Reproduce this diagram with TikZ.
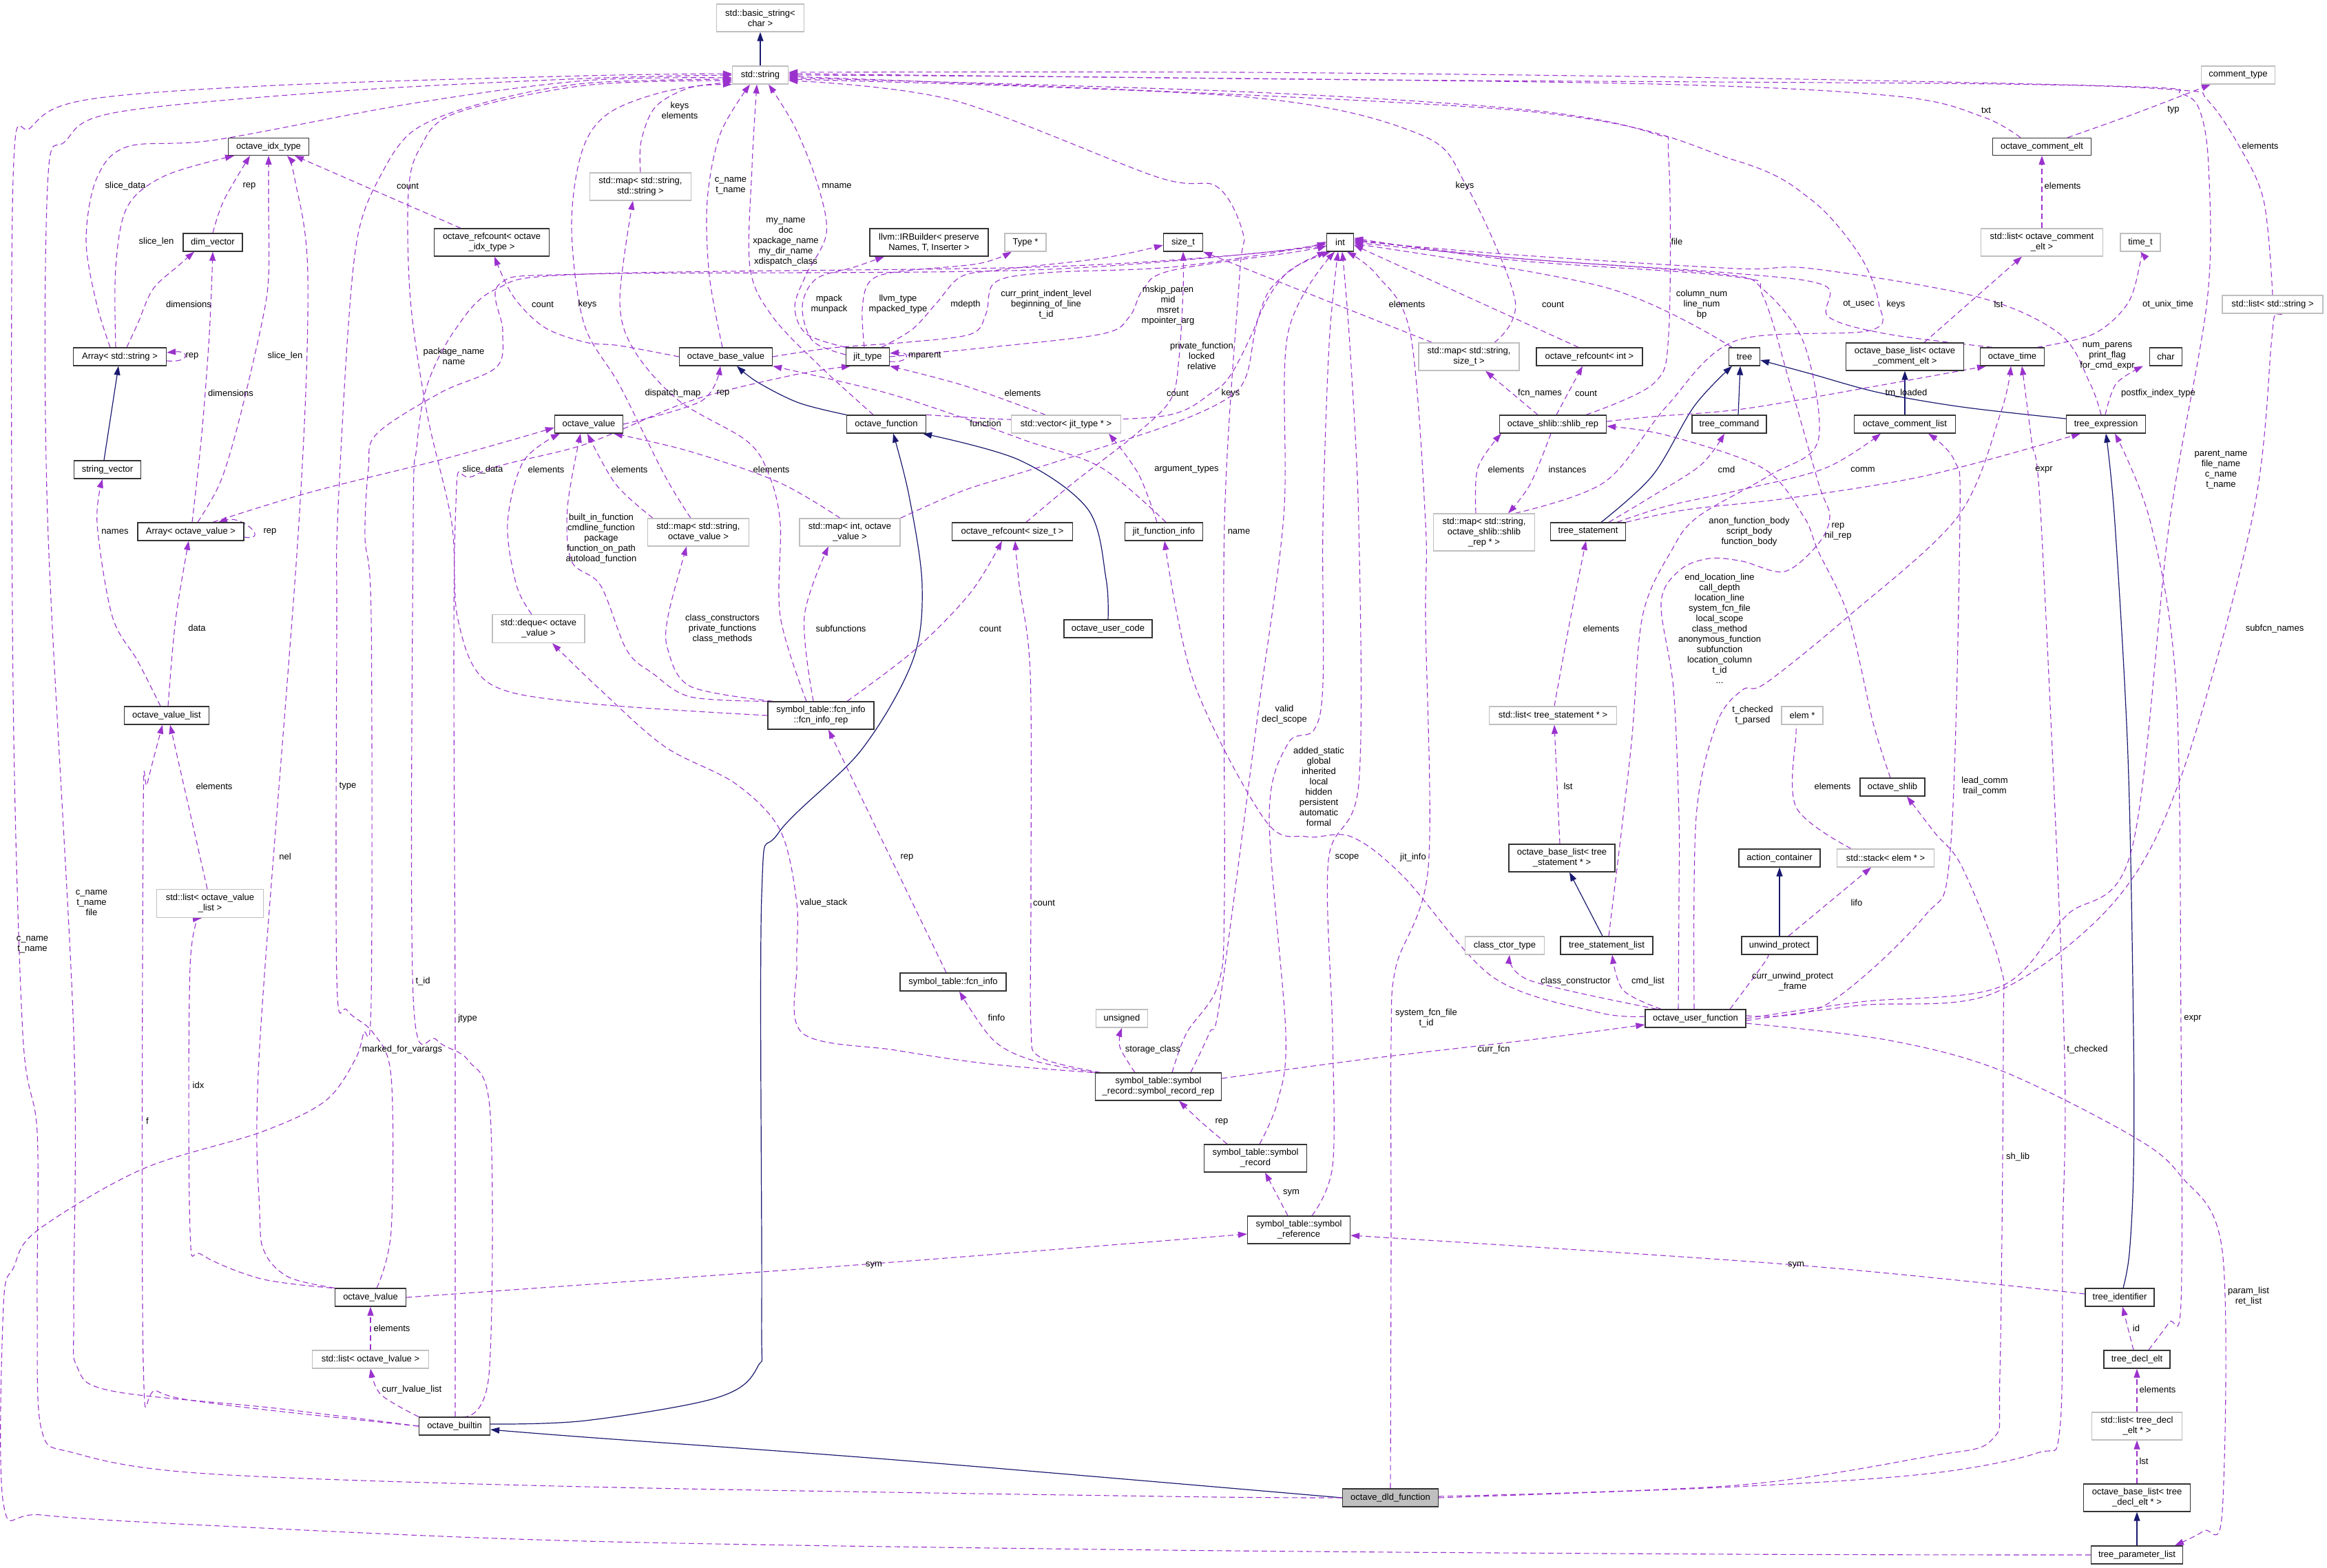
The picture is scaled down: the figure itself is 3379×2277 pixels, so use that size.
\documentclass[tikz,border=0pt]{standalone}
\usepackage{fontspec}
\setmainfont{Liberation Sans}
\usetikzlibrary{arrows.meta}
\pgfdeclarelayer{bg}
\pgfsetlayers{bg,main}
\definecolor{depc}{HTML}{9A32CD}
\definecolor{inhc}{HTML}{191970}
\definecolor{gbd}{HTML}{BFBFBF}
\begin{document}
\begin{tikzpicture}[x=1pt,y=-1pt,
 every node/.style={font=\fontsize{13}{15}\selectfont},
 cls/.style={draw=black!80,line width=1.3pt,fill=white,inner sep=0pt,align=center,minimum height=26pt},
 gcls/.style={cls,draw=gbd},
 lbl/.style={inner sep=0pt,align=center},
 dep/.style={draw=depc,line width=1.1pt,dash pattern=on 8pt off 5pt,-{Triangle[length=13pt,width=9pt]}},
 inh/.style={draw=inhc,line width=1.2pt,-{Triangle[length=13pt,width=9pt]}},
 sm/.style={smooth,tension=.55}]
\useasboundingbox (0,0) rectangle (3379,2277);
% ---------------- nodes
\node[gcls,minimum width=127pt,minimum height=40pt] (bs) at (1104,26) {std::basic\_string<\\char >};
\node[gcls,minimum width=81pt] (str) at (1104,109) {std::string};
\node[gcls,minimum width=147pt,minimum height=40pt] (mss) at (930,271) {std::map< std::string,\\std::string >};
\node[cls,minimum width=117pt,minimum height=25pt] (idx) at (390,213) {octave\_idx\_type};
\node[cls,minimum width=86pt] (dv) at (309,352) {dim\_vector};
\node[cls,minimum width=167pt,minimum height=40pt] (rci) at (714,352) {octave\_refcount< octave\\\_idx\_type >};
\node[cls,minimum width=172pt,minimum height=40pt] (irb) at (1349,352) {llvm::IRBuilder< preserve\\Names, T, Inserter >};
\node[gcls,minimum width=60pt] (typ) at (1489,352) {Type *};
\node[cls,minimum width=57pt] (szt) at (1718,352) {size\_t};
\node[cls,minimum width=39pt] (int) at (1946,352) {int};
\node[gcls,minimum width=107pt] (ct) at (3250,109) {comment\_type};
\node[cls,minimum width=143pt,minimum height=25pt] (ce) at (2965,213) {octave\_comment\_elt};
\node[gcls,minimum width=177pt,minimum height=40pt] (lce) at (2965,352) {std::list< octave\_comment\\\_elt >};
\node[gcls,minimum width=58pt] (tt) at (3108,352) {time\_t};
\node[gcls,minimum width=146pt] (lss) at (3300,442) {std::list< std::string >};
\node[cls,minimum width=135pt] (as) at (174,518) {Array< std::string >};
\node[cls,minimum width=135pt] (bv) at (1054,518) {octave\_base\_value};
\node[cls,minimum width=63pt] (jt) at (1260,518) {jit\_type};
\node[gcls,minimum width=146pt,minimum height=40pt] (mssz) at (2133,518) {std::map< std::string,\\size\_t >};
\node[cls,minimum width=154pt] (rcint) at (2308,518) {octave\_refcount< int >};
\node[cls,minimum width=45pt] (tree) at (2533,518) {tree};
\node[cls,minimum width=171pt,minimum height=40pt] (blc) at (2766,518) {octave\_base\_list< octave\\\_comment\_elt >};
\node[cls,minimum width=93pt] (otime) at (2922,518) {octave\_time};
\node[cls,minimum width=47pt] (chr) at (3145,518) {char};
\node[cls,minimum width=97pt] (sv) at (156,682) {string\_vector};
\node[cls,minimum width=99pt] (ov) at (855,616) {octave\_value};
\node[cls,minimum width=115pt] (of) at (1287,616) {octave\_function};
\node[gcls,minimum width=159pt] (vjt) at (1548,616) {std::vector< jit\_type * >};
\node[cls,minimum width=155pt] (shr) at (2255,616) {octave\_shlib::shlib\_rep};
\node[cls,minimum width=108pt] (tc) at (2511,616) {tree\_command};
\node[cls,minimum width=147pt] (cl) at (2766,616) {octave\_comment\_list};
\node[cls,minimum width=115pt] (te) at (3058,616) {tree\_expression};
\node[cls,minimum width=154pt] (av) at (277,772) {Array< octave\_value >};
\node[gcls,minimum width=147pt,minimum height=40pt] (msov) at (1014,773) {std::map< std::string,\\octave\_value >};
\node[gcls,minimum width=146pt,minimum height=40pt] (miov) at (1234,773) {std::map< int, octave\\\_value >};
\node[cls,minimum width=175pt] (rcs) at (1470,772) {octave\_refcount< size\_t >};
\node[cls,minimum width=113pt] (jfi) at (1690,772) {jit\_function\_info};
\node[gcls,minimum width=147pt,minimum height=54pt] (msh) at (2155,773) {std::map< std::string,\\octave\_shlib::shlib\\\_rep * >};
\node[cls,minimum width=109pt] (ts) at (2306,772) {tree\_statement};
\node[gcls,minimum width=134pt,minimum height=41pt] (dq) at (782,913) {std::deque< octave\\\_value >};
\node[cls,minimum width=128pt] (uc) at (1609,913) {octave\_user\_code};
\node[cls,minimum width=123pt] (vl) at (242,1039) {octave\_value\_list};
\node[cls,minimum width=154pt,minimum height=40pt] (fir) at (1192,1039) {symbol\_table::fcn\_info\\::fcn\_info\_rep};
\node[gcls,minimum width=185pt] (lts) at (2255,1039) {std::list< tree\_statement * >};
\node[gcls,minimum width=60pt] (elem) at (2617,1039) {elem *};
\node[cls,minimum width=94pt] (osh) at (2748,1143) {octave\_shlib};
\node[cls,minimum width=154pt,minimum height=40pt] (bls) at (2268,1246) {octave\_base\_list< tree\\\_statement * >};
\node[cls,minimum width=118pt] (ac) at (2584,1246) {action\_container};
\node[gcls,minimum width=141pt] (se) at (2738,1246) {std::stack< elem * >};
\node[gcls,minimum width=155pt,minimum height=41pt] (lvl) at (305,1312) {std::list< octave\_value\\\_list >};
\node[gcls,minimum width=115pt] (cct) at (2185,1373) {class\_ctor\_type};
\node[cls,minimum width=134pt] (tsl) at (2333,1373) {tree\_statement\_list};
\node[cls,minimum width=110pt] (up) at (2584,1373) {unwind\_protect};
\node[cls,minimum width=154pt] (fi) at (1384,1426) {symbol\_table::fcn\_info};
\node[gcls,minimum width=75pt] (uns) at (1629,1479) {unsigned};
\node[cls,minimum width=146pt] (uf) at (2462,1479) {octave\_user\_function};
\node[cls,minimum width=183pt,minimum height=40pt] (srr) at (1682,1578) {symbol\_table::symbol\\\_record::symbol\_record\_rep};
\node[cls,minimum width=149pt,minimum height=40pt] (sr) at (1823,1682) {symbol\_table::symbol\\\_record};
\node[cls,minimum width=149pt,minimum height=40pt] (sref) at (1886,1786) {symbol\_table::symbol\\\_reference};
\node[cls,minimum width=103pt] (lv) at (538,1884) {octave\_lvalue};
\node[cls,minimum width=100pt] (tid) at (3078,1884) {tree\_identifier};
\node[gcls,minimum width=169pt] (llv) at (538,1974) {std::list< octave\_lvalue >};
\node[cls,minimum width=96pt] (tde) at (3103,1974) {tree\_decl\_elt};
\node[cls,minimum width=103pt] (ob) at (660,2071) {octave\_builtin};
\node[gcls,minimum width=131pt,minimum height=40pt] (ltd) at (3103,2071) {std::list< tree\_decl\\\_elt * >};
\node[cls,minimum width=139pt,fill=gbd] (dld) at (2019,2175) {octave\_dld\_function};
\node[cls,minimum width=155pt,minimum height=40pt] (bld) at (3103,2175) {octave\_base\_list< tree\\\_decl\_elt * >};
\node[cls,minimum width=133pt] (tpl) at (3103,2258) {tree\_parameter\_list};
% ---------------- labels
\node[lbl] (l1) at (987,160) {keys\\elements};
\node[lbl] (l2) at (182,270) {slice\_data};
\node[lbl] (l3) at (362,270) {rep};
\node[lbl] (l4) at (592,270) {count};
\node[lbl] (l5) at (1061,270) {c\_name\\t\_name};
\node[lbl] (l6) at (1215,270) {mname};
\node[lbl] (l7) at (2127,270) {keys};
\node[lbl] (l8) at (2884,160) {txt};
\node[lbl] (l9) at (3156,160) {typ};
\node[lbl] (l10) at (3282,212) {elements};
\node[lbl] (l11) at (2995,270) {elements};
\node[lbl] (l12) at (227,351) {slice\_len};
\node[lbl] (l13) at (1141,351) {my\_name\\doc\\xpackage\_name\\my\_dir\_name\\xdispatch\_class};
\node[lbl] (l14) at (2435,351) {file};
\node[lbl] (l15) at (274,442) {dimensions};
\node[lbl] (l16) at (788,442) {count};
\node[lbl] (l17) at (853,442) {keys};
\node[lbl] (l18) at (1204,442) {mpack\\munpack};
\node[lbl] (l19) at (1304,442) {llvm\_type\\mpacked\_type};
\node[lbl] (l20) at (1402,442) {mdepth};
\node[lbl] (l21) at (1519,442) {curr\_print\_indent\_level\\beginning\_of\_line\\t\_id};
\node[lbl] (l22) at (1696,444) {mskip\_paren\\mid\\msret\\mpointer\_arg};
\node[lbl] (l23) at (2043,442) {elements};
\node[lbl] (l24) at (2255,442) {count};
\node[lbl] (l25) at (2471,442) {column\_num\\line\_num\\bp};
\node[lbl] (l26) at (2699,442) {ot\_usec};
\node[lbl] (l27) at (2753,442) {keys};
\node[lbl] (l28) at (2902,442) {lst};
\node[lbl] (l29) at (3148,442) {ot\_unix\_time};
\node[lbl] (l30) at (279,517) {rep};
\node[lbl] (l31) at (414,517) {slice\_len};
\node[lbl] (l32) at (659,517) {package\_name\\name};
\node[lbl] (l33) at (1343,517) {mparent};
\node[lbl] (l34) at (1745,517) {private\_function\\locked\\relative};
\node[lbl] (l35) at (3060,517) {num\_parens\\print\_flag\\for\_cmd\_expr};
\node[lbl] (l36) at (335,571) {dimensions};
\node[lbl] (l37) at (977,571) {dispatch\_map};
\node[lbl] (l38) at (1050,571) {rep};
\node[lbl] (l39) at (1485,571) {elements};
\node[lbl] (l40) at (1710,571) {count};
\node[lbl] (l41) at (1787,571) {keys};
\node[lbl] (l42) at (2236,571) {fcn\_names};
\node[lbl] (l43) at (2303,571) {count};
\node[lbl] (l44) at (2768,571) {tm\_loaded};
\node[lbl] (l45) at (3134,571) {postfix\_index\_type};
\node[lbl] (l46) at (1431,615) {function};
\node[lbl] (l47) at (701,682) {slice\_data};
\node[lbl] (l48) at (793,682) {elements};
\node[lbl] (l49) at (914,682) {elements};
\node[lbl] (l50) at (1120,682) {elements};
\node[lbl] (l51) at (1723,682) {argument\_types};
\node[lbl] (l52) at (2187,682) {elements};
\node[lbl] (l53) at (2276,682) {instances};
\node[lbl] (l54) at (2507,682) {cmd};
\node[lbl] (l55) at (2705,682) {comm};
\node[lbl] (l56) at (2968,682) {expr};
\node[lbl] (l57) at (3225,682) {parent\_name\\file\_name\\c\_name\\t\_name};
\node[lbl] (l58) at (167,772) {names};
\node[lbl] (l59) at (392,772) {rep};
\node[lbl] (l60) at (873,782) {built\_in\_function\\cmdline\_function\\package\\function\_on\_path\\autoload\_function};
\node[lbl] (l61) at (1799,772) {name};
\node[lbl] (l62) at (2669,772) {rep\\nil\_rep};
\node[lbl] (l63) at (2540,772) {anon\_function\_body\\script\_body\\function\_body};
\node[lbl] (l64) at (286,912) {data};
\node[lbl] (l65) at (1049,913) {class\_constructors\\private\_functions\\class\_methods};
\node[lbl] (l66) at (1221,913) {subfunctions};
\node[lbl] (l67) at (1438,913) {count};
\node[lbl] (l68) at (2325,913) {elements};
\node[lbl] (l69) at (2497,913) {end\_location\_line\\call\_depth\\location\_line\\system\_fcn\_file\\local\_scope\\class\_method\\anonymous\_function\\subfunction\\location\_column\\t\_id\\...};
\node[lbl] (l70) at (3303,913) {subfcn\_names};
\node[lbl] (l71) at (1865,1038) {valid\\decl\_scope};
\node[lbl] (l72) at (2545,1039) {t\_checked\\t\_parsed};
\node[lbl] (l73) at (311,1142) {elements};
\node[lbl] (l74) at (505,1142) {type};
\node[lbl] (l75) at (1915,1142) {added\_static\\global\\inherited\\local\\hidden\\persistent\\automatic\\formal};
\node[lbl] (l76) at (2277,1142) {lst};
\node[lbl] (l77) at (2661,1142) {elements};
\node[lbl] (l78) at (2882,1142) {lead\_comm\\trail\_comm};
\node[lbl] (l79) at (414,1244) {nel};
\node[lbl] (l80) at (1317,1245) {rep};
\node[lbl] (l81) at (1956,1245) {scope};
\node[lbl] (l82) at (2052,1245) {jit\_info};
\node[lbl] (l83) at (133,1311) {c\_name\\t\_name\\file};
\node[lbl] (l84) at (1196,1311) {value\_stack};
\node[lbl] (l85) at (1516,1311) {count};
\node[lbl] (l86) at (2696,1311) {lifo};
\node[lbl] (l87) at (47,1372) {c\_name\\t\_name};
\node[lbl] (l88) at (614,1425) {t\_id};
\node[lbl] (l89) at (2288,1425) {class\_constructor};
\node[lbl] (l90) at (2393,1425) {cmd\_list};
\node[lbl] (l91) at (2603,1426) {curr\_unwind\_protect\\\_frame};
\node[lbl] (l92) at (679,1479) {jtype};
\node[lbl] (l93) at (1447,1478) {finfo};
\node[lbl] (l94) at (2071,1479) {system\_fcn\_file\\t\_id};
\node[lbl] (l95) at (3184,1479) {expr};
\node[lbl] (l96) at (584,1524) {marked\_for\_varargs};
\node[lbl] (l97) at (1674,1524) {storage\_class};
\node[lbl] (l98) at (2169,1524) {curr\_fcn};
\node[lbl] (l99) at (3031,1524) {t\_checked};
\node[lbl] (l100) at (288,1576) {idx};
\node[lbl] (l101) at (1774,1629) {rep};
\node[lbl] (l102) at (214,1628) {f};
\node[lbl] (l103) at (2930,1680) {sh\_lib};
\node[lbl] (l104) at (1875,1732) {sym};
\node[lbl] (l105) at (1269,1837) {sym};
\node[lbl] (l106) at (2608,1837) {sym};
\node[lbl] (l107) at (3265,1883) {param\_list\\ret\_list};
\node[lbl] (l108) at (569,1929) {elements};
\node[lbl] (l109) at (3102,1929) {id};
\node[lbl] (l110) at (598,2018) {curr\_lvalue\_list};
\node[lbl] (l111) at (3133,2018) {elements};
\node[lbl] (l112) at (3113,2122) {lst};
% ---------------- edges
\begin{pgfonlayer}{bg}
\fill[white] (0,0) rectangle (3379,2277);
% inheritance
\draw[inh] (str.north) -- (bs.south);
\draw[inh] ([xshift=-5pt]sv.north) -- ([xshift=-2pt]as.south);
\draw[inh] plot[sm] coordinates {(of.north west) (1160,585) (1100,555) ([xshift=16pt]bv.south)};
\draw[inh] plot[sm] coordinates {(uc.north) (1606,840) (1580,740) (1480,668) ([xshift=-5pt]of.south east)};
\draw[inh] plot[sm] coordinates {([yshift=3pt]ob.east) (850,2063) (1040,2030) (1100,1985) (1106,1900) (1106,1300) (1130,1210) (1250,1090) (1325,960) (1339,850) (1320,720) ([xshift=10pt]of.south)};
\draw[inh] plot[sm] coordinates {(dld.west) (1300,2120) (850,2087) ([yshift=-5pt]ob.east)};
\draw[inh] ([xshift=-6pt]tsl.north) -- ([xshift=11pt]bls.south);
\draw[inh] (up.north) -- (ac.south);
\draw[inh] (cl.north) -- (blc.south);
\draw[inh] (tpl.north) -- (bld.south);
\draw[inh] plot[sm] coordinates {([xshift=19pt]ts.north) (2400,690) (2460,590) ([xshift=-18pt]tree.south)};
\draw[inh] ([xshift=13pt]tc.north) -- ([xshift=-6pt]tree.south);
\draw[inh] plot[sm] coordinates {([yshift=8pt]te.west) (2849,591) (2728,570) (2630,543) ([yshift=-5pt]tree.east)};
\draw[inh] plot[sm] coordinates {([xshift=5pt]tid.north) (3092,1820) (3098,1700) (3098,1500) (3090,1100) (3071,760) (te.south)};
% usage: to std::string
\draw[dep] plot[sm] coordinates {(mss.north) (931,205) (952,155) (1003,127) (str.south west)};
\draw[dep] plot[sm] coordinates {([xshift=-14pt]as.north) (140,440) (125,349) (140,260) (185,213) (314,203) (600,150) (850,117) ([yshift=-4pt]str.west)};
\draw[dep] plot[sm] coordinates {(dld.west) (1690,2173) (850,2159) (300,2140) (108,2110) (60,2075) (54,1900) (54,1644) (33,1500) (19,1000) (19,260) (45,185) (125,145) (400,124) (850,110) ([yshift=2pt]str.west)};
\draw[dep] plot[sm] coordinates {(ob.west) (400,2045) (163,2020) (112,1985) (107,1900) (107,1500) (69,750) (69,270) (95,205) (170,163) (500,132) (850,114) (str.west)};
\draw[dep] plot[sm] coordinates {([xshift=9pt]lv.north) (568,1787) (568,1564) (542,1500) (504,1467) (489,1420) (489,900) (490,760) (505,485) (520,340) (550,260) (600,190) (700,150) (850,121) ([yshift=-6pt]str.west)};
\draw[dep] plot[sm] coordinates {(fir.west) (850,1021) (710,992) (665,900) (656,760) (620,600) (596,436) (593,280) (610,215) (660,165) (850,124) ([yshift=-8pt]str.west)};
\draw[dep] plot[sm] coordinates {([xshift=-11pt]msov.north) (965,690) (900,560) (848,470) (830,330) (845,220) (883,165) (965,133) ([yshift=-10pt]str.west)};
\draw[dep] plot[sm] coordinates {([xshift=-5pt]bv.north) (1030,400) (1027,291) (1046,194) ([xshift=-15pt]str.south)};
\draw[dep] plot[sm] coordinates {([xshift=-19pt]of.north) (1192,533) (1122,460) (1089,388) (1092,242) ([xshift=-5pt]str.south)};
\draw[dep] plot[sm] coordinates {(jt.north west) (1171,485) (1154,446) (1170,400) (1200,339) (1187,267) (1154,184) ([xshift=12pt]str.south)};
\draw[dep] plot[sm] coordinates {([xshift=20pt]srr.north) (1723,1500) (1769,1429) (1778,1300) (1778,760) (1800,400) (1805,339) (1767,271) (1680,257) (1382,145) ([yshift=-8pt]str.east)};
\draw[dep] plot[sm] coordinates {([xshift=48pt]shr.north) (2401,557) (2423,485) (2423,230) (2401,194) (2222,160) (1800,133) ([yshift=-4pt]str.east)};
\draw[dep] plot[sm] coordinates {([xshift=37pt]mssz.north) (2200,436) (2130,271) (2059,194) (1800,140) ([yshift=-6pt]str.east)};
\draw[dep] plot[sm] coordinates {([xshift=45pt]msh.north) (2330,700) (2420,590) (2520,495) (2715,480) (2728,440) (2700,370) (2630,290) (2520,233) (2200,160) ([yshift=-2pt]str.east)};
\draw[dep] plot[sm] coordinates {([xshift=-31pt]ce.north) (2880,170) (2756,140) (2400,122) (1600,112) (str.east)};
\draw[dep] plot[sm] coordinates {(lss.north) (3287,291) (3249,208) (3205,145) (3167,131) (2900,122) (2000,116) ([yshift=2pt]str.east)};
\draw[dep] plot[sm] coordinates {(uf.east) (2700,1455) (2904,1433) (3000,1330) (3095,1235) (3150,760) (3205,436) (3207,242) (3194,160) (3167,136) (3100,126) (2500,113) (1800,105) ([yshift=4pt]str.east)};
% octave_idx_type, dim_vector, arrays
\draw[dep] plot[sm] coordinates {(dv.north) (325,291) ([xshift=-27pt]idx.south)};
\draw[dep] ([xshift=-45pt]rci.north) -- ([xshift=38pt]idx.south);
\draw[dep] plot[sm] coordinates {([xshift=-6pt]as.north) (168,388) (185,300) (240,255) ([xshift=-50pt]idx.south)};
\draw[dep] plot[sm] coordinates {([xshift=10pt]av.north) (320,700) (347,611) (380,470) (390,402) (390,300) (idx.south)};
\draw[dep] plot[sm] coordinates {(lv.north west) (420,1855) (385,1820) (377,1760) (377,1520) (434,760) (447,402) (428,260) ([xshift=27pt]idx.south)};
\draw[dep] plot[sm] coordinates {([xshift=10pt]as.north) (200,470) (222,420) (260,385) ([xshift=-27pt]dv.south)};
\draw[dep] plot[sm] coordinates {([xshift=2pt]av.north) (293,630) (304,485) (dv.south)};
\draw[dep] ([yshift=-6pt]as.east) .. controls +(34,3) and +(34,-3) .. ([yshift=6pt]as.east);
\draw[dep] ([yshift=-8pt]av.east) .. controls +(38,6) and +(35,-10) .. ([xshift=40pt]av.north);
\draw[dep] ([yshift=-7pt]jt.east) .. controls +(30,2) and +(30,-2) .. ([yshift=5pt]jt.east);
\draw[dep] plot[sm] coordinates {([xshift=32pt]av.north) (450,715) (650,665) ([yshift=-5pt]ov.west)};
\draw[dep] plot[sm] coordinates {([xshift=2pt]vl.north) (255,900) ([xshift=-3pt]av.south)};
\draw[dep] plot[sm] coordinates {([xshift=-9pt]vl.north) (200,960) (163,895) (141,760) ([xshift=-7pt]sv.south)};
\draw[dep] ([xshift=-4pt]lvl.north) -- ([xshift=5pt]vl.south);
\draw[dep] plot[sm] coordinates {(ob.west) (325,2040) (228,2020) (208,1976) (208,1186) (214,1138) ([xshift=-6pt]vl.south)};
\draw[dep] plot[sm] coordinates {([xshift=-4pt]lv.north west) (379,1857) (293,1822) (276,1787) (276,1404) ([xshift=-12pt]lvl.south)};
\draw[dep] (llv.north) -- (lv.south);
\draw[dep] plot[sm] coordinates {(ob.north west) (553,2025) (llv.south)};
\draw[dep] plot[sm] coordinates {([xshift=12pt]ob.north) (710,1996) (712,1619) (680,1540) (634,1510) (600,1448) (600,760) (605,650) (620,560) (660,480) (720,420) (850,398) (1500,388) (1800,370) ([yshift=-2pt]int.west)};
\draw[dep] plot[sm] coordinates {([xshift=1pt]ob.north) (661,1500) (661,760) (690,690) (850,645) (1003,582) (1150,545) ([xshift=-25pt]jt.south)};
\draw[dep] plot[sm] coordinates {(tpl.west) (2520,2257) (1690,2251) (850,2238) (300,2215) (60,2200) (5,2184) (5,1896) (20,1840) (54,1787) (206,1698) (379,1644) (472,1599) (515,1540) (528,1500) (539,1453) (539,895) (530,780) (535,680) (547,630) (640,570) (721,533) (730,480) (726,412) (850,398) (1500,392) (1900,360) (int.west)};
% octave_value inbound
\draw[dep] plot[sm] coordinates {([xshift=-66pt]msov.north) (894,703) ([xshift=-2pt]ov.south)};
\draw[dep] plot[sm] coordinates {([xshift=-14pt]miov.north) (1130,700) (1000,655) ([xshift=36pt]ov.south)};
\draw[dep] plot[sm] coordinates {([xshift=-10pt]dq.north) (750,850) (737,760) (760,670) ([xshift=-42pt]ov.south)};
\draw[dep] plot[sm] coordinates {(fir.north west) (1003,1012) (948,978) (910,944) (872,850) (830,815) (824,737) ([xshift=-12pt]ov.south)};
\draw[dep] plot[sm] coordinates {(ov.east) (1019,582) ([xshift=-8pt]bv.south)};
% base_value, jit_type, function
\draw[dep] plot[sm] coordinates {(bv.east) (1210,505) (1317,497) (1410,485) (1432,455) (1445,410) (1520,396) (1700,388) (1880,362) ([yshift=1pt]int.west)};
\draw[dep] plot[sm] coordinates {(bv.west) (900,502) (850,497) (790,475) (745,430) ([xshift=4pt]rci.south)};
\draw[dep] plot[sm] coordinates {([xshift=3pt]jfi.north) (1599,679) (1490,640) (1382,601) (1274,567) (bv.south east)};
\draw[dep] plot[sm] coordinates {([yshift=3pt]jt.west) (1180,495) (1165,445) (1185,405) (1240,388) ([xshift=-65pt]irb.south)};
\draw[dep] plot[sm] coordinates {([xshift=-5pt]jt.north) (1252,450) (1262,410) (1300,395) (1420,383) ([xshift=-20pt]typ.south)};
\draw[dep] plot[sm] coordinates {([xshift=20pt]jt.north) (1325,478) (1360,440) (1395,402) (1450,392) (1600,375) ([yshift=-4pt]szt.west)};
\draw[dep] plot[sm] coordinates {(jt.east) (1430,505) (1600,485) (1640,460) (1660,420) (1700,393) (1880,366) ([yshift=-5pt]int.west)};
\draw[dep] plot[sm] coordinates {([xshift=-30pt]vjt.north) (1400,560) (jt.south east)};
\draw[dep] plot[sm] coordinates {([xshift=-10pt]jfi.north) (1653,688) ([xshift=62pt]vjt.south)};
\draw[dep] plot[sm] coordinates {(of.north east) (1500,610) (1690,604) (1760,570) (1788,543) (1820,480) (1843,422) (1885,385) (int.south west)};
\draw[dep] plot[sm] coordinates {(miov.north east) (1400,712) (1507,679) (1690,620) (1780,580) (1810,545) (1828,460) (1870,395) ([xshift=-14pt]int.south)};
\draw[dep] plot[sm] coordinates {([xshift=20pt]rcs.north) (1560,700) (1650,630) (1700,580) (1712,520) (1718,420) (szt.south)};
% fcn_info_rep
\draw[dep] plot[sm] coordinates {([xshift=-21pt]fir.north) (1133,895) (1133,760) (1116,688) (1084,640) (986,582) (921,509) (900,436) ([xshift=-11pt]mss.south)};
\draw[dep] plot[sm] coordinates {([xshift=8pt]fir.north west) (1003,997) (970,944) (970,895) ([xshift=-17pt]msov.south)};
\draw[dep] plot[sm] coordinates {([xshift=-11pt]fir.north) (1168,895) ([xshift=-31pt]miov.south)};
\draw[dep] plot[sm] coordinates {([xshift=38pt]fir.north) (1328,944) (1409,861) ([xshift=-15pt]rcs.south)};
\draw[dep] ([xshift=-10pt]fi.north) -- ([xshift=11pt]fir.south);
% symbol records
\draw[dep] plot[sm] coordinates {(srr.north west) (1500,1540) (1442,1510) ([xshift=9pt]fi.south)};
\draw[dep] plot[sm] coordinates {([xshift=8pt]srr.north west) (1510,1535) (1497,1490) (1497,1300) (1496,978) (1480,850) ([xshift=4pt]rcs.south)};
\draw[dep] plot[sm] coordinates {([xshift=-4pt]srr.north west) (1436,1545) (1300,1525) (1165,1500) (1157,1400) (1157,1312) (1133,1206) (1068,1138) (965,1084) (870,1000) ([xshift=20pt]dq.south)};
\draw[dep] plot[sm] coordinates {([xshift=-34pt]srr.north) (1626,1520) (uns.south)};
\draw[dep] plot[sm] coordinates {([xshift=47pt]srr.north) (1756,1500) (1772,1450) (1826,1041) (1864,750) (1870,485) ([xshift=-8pt]int.south)};
\draw[dep] plot[sm] coordinates {([yshift=12pt]srr.east) (1991,1537) (2222,1510) ([yshift=-9pt]uf.west)};
\draw[dep] plot[sm] coordinates {([xshift=-41pt]sr.north) (1745,1630) ([xshift=30pt]srr.south)};
\draw[dep] plot[sm] coordinates {([xshift=6pt]sr.north) (1855,1600) (1867,1500) (1843,1186) (1870,1080) (1908,1060) (1921,992) (1921,760) (1930,500) ([xshift=-3pt]int.south)};
\draw[dep] ([xshift=-16pt]sref.north) -- ([xshift=14pt]sr.south);
\draw[dep] plot[sm] coordinates {([xshift=19pt]sref.north) (1935,1693) (1935,1500) (1929,1249) (1973,1138) (1973,760) (1960,500) ([xshift=3pt]int.south)};
\draw[dep] plot[sm] coordinates {(lv.east) (1269,1835) ([yshift=-6pt]sref.west)};
\draw[dep] plot[sm] coordinates {([yshift=5pt]tid.west) (2608,1837) ([yshift=-8pt]sref.east)};
\draw[dep] plot[sm] coordinates {(dld.north) (2020,1800) (2020,1510) (2027,1404) (2074,1259) (2070,900) (2070,760) (2048,485) (2000,400) ([xshift=10pt]int.south)};
% right side
\draw[dep] plot[sm] coordinates {(dld.east) (2520,2159) (2800,2140) (2958,2110) (2991,2075) (2995,1800) (2997,1500) (2964,760) (2950,640) ([xshift=14pt]otime.south)};
\draw[dep] plot[sm] coordinates {([yshift=2pt]dld.east) (2520,2157) (2800,2115) (2893,2090) (2904,1995) (2909,1500) (2904,1400) (2849,1259) (2810,1210) ([xshift=21pt]osh.south)};
\draw[dep] plot[sm] coordinates {([xshift=-3pt]osh.north) (2720,1050) (2684,895) (2640,800) (2619,750) (2560,680) (2420,632) ([yshift=-3pt]shr.east)};
\draw[dep] plot[sm] coordinates {([yshift=4pt]shr.east) (2400,605) (2530,594) (2700,565) ([xshift=-38pt]otime.south)};
\draw[dep] ([xshift=-22pt]shr.north) -- ([xshift=24pt]mssz.south);
\draw[dep] ([xshift=5pt]shr.north) -- ([xshift=-10pt]rcint.south);
\draw[dep] plot[sm] coordinates {([xshift=-3pt]shr.south) (2222,703) ([xshift=35pt]msh.north)};
\draw[dep] plot[sm] coordinates {([xshift=-12pt]msh.north) (2146,679) ([xshift=-75pt]shr.south)};
\draw[dep] ([xshift=20pt]mssz.north west) -- (szt.south east);
\draw[dep] ([xshift=-16pt]rcint.north) -- ([yshift=-4pt]int.east);
\draw[dep] plot[sm] coordinates {([xshift=-18pt]tree.north) (2330,417) ([yshift=-2pt]int.east)};
\draw[dep] plot[sm] coordinates {([xshift=-29pt]otime.north) (2740,485) (2655,460) (2650,415) (2520,397) (2200,375) ([yshift=4pt]int.east)};
\draw[dep] plot[sm] coordinates {([xshift=-7pt]te.north) (3035,557) (2991,485) (2871,431) (2630,390) (2520,390) (2200,370) ([yshift=2pt]int.east)};
\draw[dep] plot[sm] coordinates {([xshift=-25pt]uf.north) (2438,1300) (2438,1186) (2430,1000) (2412,876) (2439,828) (2482,811) (2530,815) (2591,830) (2640,790) (2657,750) (2641,703) (2600,560) (2560,430) (2520,402) (2200,378) ([yshift=6pt]int.east)};
\draw[dep] plot[sm] coordinates {([xshift=3pt]tsl.north) (2368,1089) (2385,895) (2428,798) (2466,750) (2570,690) (2640,640) (2620,500) (2560,420) (2500,398) (2200,375) (int.east)};
\draw[dep] plot[sm] coordinates {([xshift=36pt]otime.north) (3040,485) (3090,440) (3108,380) (tt.south)};
\draw[dep] ([xshift=28pt]blc.north) -- ([xshift=-29pt]lce.south);
\draw[dep] (lce.north) -- (ce.south);
\draw[dep] plot[sm] coordinates {([xshift=37pt]ce.north) (3100,165) ([xshift=-40pt]ct.south)};
\draw[dep] plot[sm] coordinates {([xshift=-1pt]te.north) (3073,557) ([xshift=-33pt]chr.south)};
\draw[dep] plot[sm] coordinates {([xshift=17pt]tde.north) (3150,1920) (3167,1891) (3167,1500) (3160,1000) (3123,760) ([xshift=13pt]te.south)};
\draw[dep] ([xshift=-5pt]tde.north) -- ([xshift=4pt]tid.south);
\draw[dep] (ltd.north) -- (tde.south);
\draw[dep] (bld.north) -- (ltd.south);
\draw[dep] plot[sm] coordinates {([yshift=-3pt]uf.east) (2700,1460) (2893,1443) (3068,1312) (3167,1128) (3271,750) (3298,500) (lss.south)};
\draw[dep] plot[sm] coordinates {([yshift=4pt]uf.east) (2650,1460) (2794,1331) (2832,1235) (2846,750) (2838,669) ([xshift=34pt]cl.south)};
\draw[dep] plot[sm] coordinates {([yshift=-7pt]uf.east) (2739,1510) (2904,1554) (3095,1649) (3167,1708) (3227,1817) (3227,2194) (3200,2223) ([xshift=55pt]tpl.north)};
\draw[dep] plot[sm] coordinates {([xshift=-2pt]uf.north) (2463,1186) (2493,1050) (2530,1002) (2564,992) (2684,895) (2843,750) (2905,600) ([xshift=-2pt]otime.south)};
\draw[dep] plot[sm] coordinates {([xshift=50pt]uf.north) (2564,1395) ([xshift=-20pt]up.south)};
\draw[dep] plot[sm] coordinates {([yshift=3pt]uf.west) (2320,1470) (2168,1419) (2038,1273) (1962,1215) (1897,1215) (1837,1191) (1734,992) ([xshift=1pt]jfi.south)};
\draw[dep] plot[sm] coordinates {([xshift=-56pt]uf.north) (2222,1424) ([xshift=7pt]cct.south)};
\draw[dep] plot[sm] coordinates {([xshift=-50pt]uf.north) (2357,1438) ([xshift=8pt]tsl.south)};
\draw[dep] plot[sm] coordinates {([xshift=2pt]lts.north) (2280,900) ([xshift=-3pt]ts.south)};
\draw[dep] ([xshift=-3pt]bls.north) -- ([xshift=2pt]lts.south);
\draw[dep] plot[sm] coordinates {([xshift=-50pt]se.north) (2608,1172) (2608,1065) ([xshift=-7pt]elem.south)};
\draw[dep] ([xshift=13pt]up.north) -- ([xshift=-21pt]se.south);
\draw[dep] plot[sm] coordinates {([xshift=30pt]ts.north) (2400,720) (2470,675) ([xshift=-7pt]tc.south)};
\draw[dep] plot[sm] coordinates {([xshift=42pt]ts.north) (2420,735) (2520,713) (2650,680) ([xshift=-35pt]cl.south)};
\draw[dep] plot[sm] coordinates {(ts.north east) (2450,740) (2600,723) (2800,690) ([xshift=-37pt]te.south)};
\end{pgfonlayer}
\end{tikzpicture}
\end{document}
